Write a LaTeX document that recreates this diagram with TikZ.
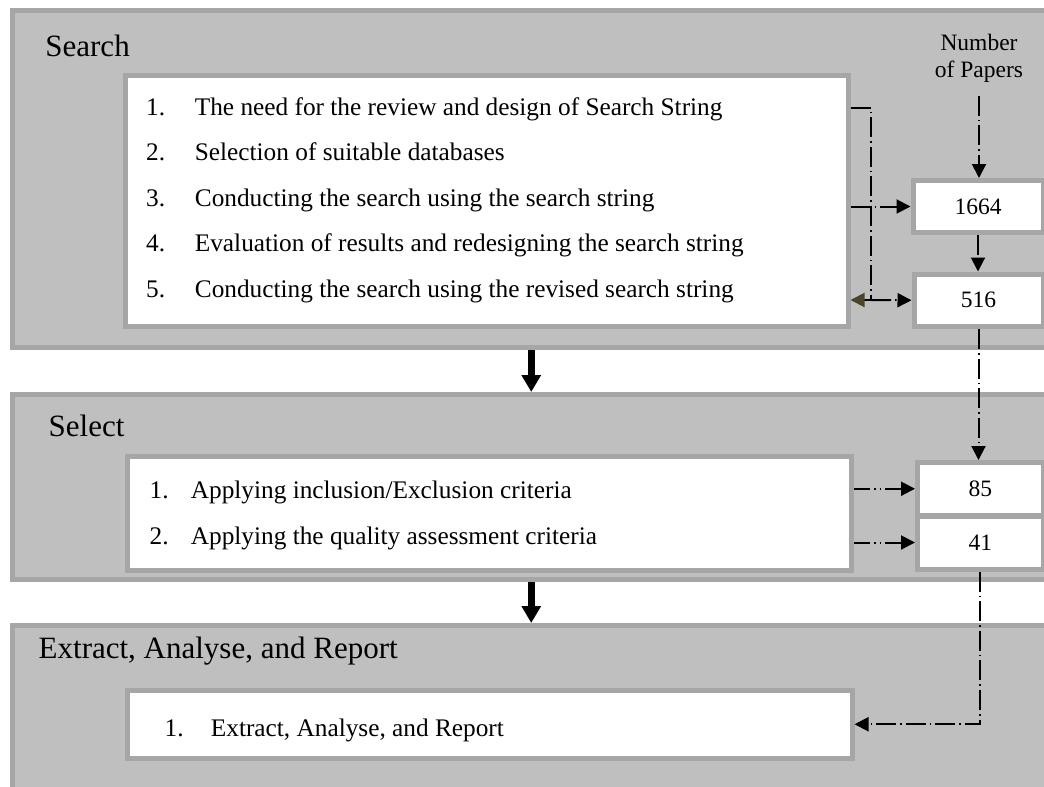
\documentclass[tikz,border=0pt]{standalone}
\usepackage{fontspec}
\setmainfont{Liberation Serif}
\usepackage{tikz}
\usetikzlibrary{arrows.meta}
\definecolor{panelgrey}{HTML}{BFBFBF}
\definecolor{edgegrey}{HTML}{A6A6A6}
\definecolor{tipolive}{HTML}{4A4528}
\newcommand{\nr}[2]{\makebox[#1][l]{#2}}

\begin{document}
\begin{tikzpicture}[x=0.5pt, y=-0.5pt,
		panel/.style={draw=edgegrey, fill=panelgrey, line width=2.5pt, inner sep=0pt},
		wbox/.style={draw=edgegrey, fill=white, line width=2.5pt, inner sep=0pt},
		numbox/.style={wbox, font=\fontsize{11.75}{13.5}\selectfont},
		head/.style={anchor=base west, inner sep=0pt, font=\fontsize{15.5}{18}\selectfont},
		entry/.style={anchor=base west, inner sep=0pt, font=\fontsize{12.65}{15}\selectfont},
		dashdot/.style={line width=1pt, dash pattern=on 10pt off 2pt on 0.8pt off 2pt},
		dashdotdot/.style={line width=1pt, dash pattern=on 8pt off 2pt on 0.8pt off 2pt on 0.8pt off 2pt},
		arr/.style={-{Triangle[width=7pt,length=7pt]}},
		bigarrow/.style={line width=3.25pt, -{Triangle[width=9.3pt,length=8.5pt]}}]
			\useasboundingbox (0,0) rectangle (1044,787);
			\clip (0,0) rectangle (1044,787);
			%
			\node[panel, minimum width=518.75pt, minimum height=168.75pt]	(search)	at (531.25,178.75)	{};
			\node[panel, minimum width=518.75pt, minimum height=92.5pt]	(select)	at (531.25,487)	{};
			\node[panel, minimum width=518.75pt, minimum height=87.25pt]	(extract)	at (531.25,712.75)	{};
			%
			\node[head] (lsearch)	at (45,56.7)	{Search};
			\node[head] (lselect)	at (48.3,436.7)	{Select};
			\node[head] (lextract)	at (38.3,658)	{Extract, Analyse, and Report};
			%
			\node[wbox, minimum width=361.25pt, minimum height=125.75pt]	(sbox)	at (486.75,200.75)	{};
			\node[wbox, minimum width=362pt, minimum height=56.75pt]	(selbox)	at (489.5,513.25)	{};
			\node[wbox, minimum width=362.25pt, minimum height=34.25pt]	(ebox)	at (489.75,724.25)	{};
			%
			\node[entry] (s1)	at (145.8,115)	{\nr{24.35pt}{1.}The need for the review and design of Search String};
			\node[entry] (s2)	at (145.8,160.5)	{\nr{24.35pt}{2.}Selection of suitable databases};
			\node[entry] (s3)	at (145.8,206)	{\nr{24.35pt}{3.}Conducting the search using the search string};
			\node[entry] (s4)	at (145.8,251.5)	{\nr{24.35pt}{4.}Evaluation of results and redesigning the search string};
			\node[entry] (s5)	at (145.8,297)	{\nr{24.35pt}{5.}Conducting the search using the revised search string};
			%
			\node[entry] (e1)	at (149.2,498.3)	{\nr{20.65pt}{1.}Applying inclusion/Exclusion criteria};
			\node[entry] (e2)	at (149.2,544)	{\nr{20.65pt}{2.}Applying the quality assessment criteria};
			%
			\node[entry] (x1)	at (164.2,736.7)	{\nr{23.15pt}{1.}Extract, Analyse, and Report};
			%
			\node[align=center, inner sep=0pt, font=\fontsize{11.75}{13.5}\selectfont] (npapers) at (979,58) {Number\\of Papers};
			\node[numbox, minimum width=65pt, minimum height=26pt]	(n1664)	at (978,206.5)	{1664};
			\node[numbox, minimum width=64.5pt, minimum height=26.25pt]	(n516)	at (978.5,300.25)	{516};
			\node[numbox, minimum width=62.75pt, minimum height=26.25pt]	(n85)	at (980.25,488.75)	{85};
			\node[numbox, minimum width=62.75pt, minimum height=26.5pt]	(n41)	at (980.25,542.5)	{41};
			%
			\coordinate (top)	at (871,108);
			\coordinate (elbow)	at (871,300);
			%
			\draw[bigarrow] (search.south) -- (select.north);
			\draw[bigarrow] (select.south) -- (extract.north);
			%
			\draw[dashdot] (sbox.east |- top) -- (top) -- (elbow);
			\draw[dashdot, -{Triangle[width=7pt,length=7pt,color=tipolive]}] (elbow) -- (sbox.east |- elbow);
			\draw[dashdot, arr] (elbow) -- (n516.west);
			\draw[dashdot, arr] (sbox.east |- n1664) -- (n1664.west);
			\draw[dashdot, arr, shorten <=6.5pt] (npapers.south) -- (npapers.south |- n1664.north);
			\draw[dashdot, arr] (n1664.south) -- (n1664.south |- n516.north);
			\draw[dashdot, arr] (n516.south) -- (n516.south |- n85.north);
			%
			\draw[dashdotdot, arr] (selbox.east |- n85) -- (n85.west);
			\draw[dashdotdot, arr] (selbox.east |- n41) -- (n41.west);
			\draw[dashdot, arr] (n41.south) |- (ebox.east);
\end{tikzpicture}
\end{document}
